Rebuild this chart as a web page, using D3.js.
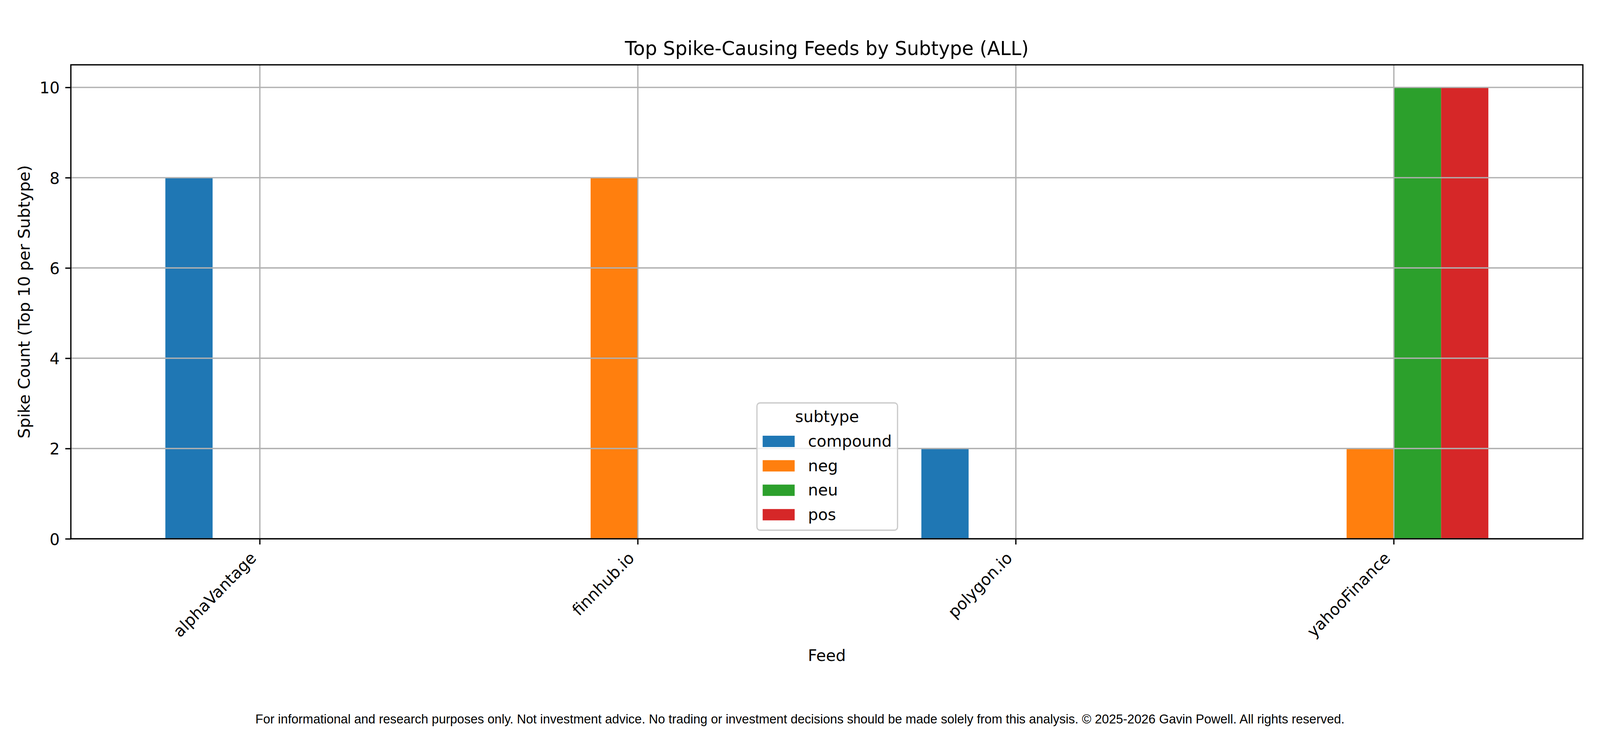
<!DOCTYPE html>
<html>
<head>
<meta charset="utf-8">
<script src="https://cdn.jsdelivr.net/npm/d3@7"></script>
<style>
  html, body { margin: 0; padding: 0; background: #fff; overflow: hidden; }
  svg { display: block; width: 100vw; height: 100vh; }
  text { font-family: "DejaVu Sans", sans-serif; fill: #000; }
</style>
</head>
<body>
<div id="wrapper"></div>
<script>
const feeds = ["alphaVantage", "finnhub.io", "polygon.io", "yahooFinance"];
const subtypes = ["compound", "neg", "neu", "pos"];
const compoundCounts = [8, 0, 2, 0];
const negCounts = [0, 8, 0, 2];
const neuCounts = [0, 0, 0, 10];
const posCounts = [0, 0, 0, 10];
const yTicks = [0, 2, 4, 6, 8, 10];
const subtypeColors = ["#1f77b4", "#ff7f0e", "#2ca02c", "#d62728"];

const titleText = "Top Spike-Causing Feeds by Subtype (ALL)";
const xLabelText = "Feed";
const yLabelText = "Spike Count (Top 10 per Subtype)";
const footerText = "For informational and research purposes only. Not investment advice. No trading or investment decisions should be made solely from this analysis. \u00a9 2025-2026 Gavin Powell. All rights reserved.";

const seriesValues = [compoundCounts, negCounts, neuCounts, posCounts];

const dimensions = {
  width: 4200,
  height: 1880,
  margin: { top: 166, right: 45, bottom: 500, left: 186 },
};
dimensions.boundedWidth = dimensions.width - dimensions.margin.left - dimensions.margin.right;
dimensions.boundedHeight = dimensions.height - dimensions.margin.top - dimensions.margin.bottom;

const fontSize = 41.67;
const lw = 3.33;
const tickLen = 14.6;

// flatten into one row per bar
const dataset = [];
feeds.forEach((feed, i) => {
  subtypes.forEach((sub, j) => {
    dataset.push({ feed, subtype: sub, value: seriesValues[j][i], color: subtypeColors[j] });
  });
});

// the window can be narrower than 4200, so stretch the drawing to fill it
const svg = d3.select("#wrapper")
  .append("svg")
  .attr("viewBox", `0 0 ${dimensions.width} ${dimensions.height}`)
  .attr("preserveAspectRatio", "none");

const bounds = svg.append("g")
  .attr("transform", `translate(${dimensions.margin.left},${dimensions.margin.top})`);

const xScale = d3.scaleBand()
  .domain(feeds)
  .range([0, dimensions.boundedWidth])
  .padding(0);

// pandas-style grouped bars: total width 0.5 of each category slot
const subScale = d3.scaleBand()
  .domain(subtypes)
  .range([xScale.bandwidth() * 0.25, xScale.bandwidth() * 0.75])
  .padding(0);

const yScale = d3.scaleLinear()
  .domain([0, 10.5])
  .range([dimensions.boundedHeight, 0]);

// bars
bounds.append("g")
  .selectAll("rect")
  .data(dataset.filter(d => d.value > 0))
  .join("rect")
  .attr("x", d => xScale(d.feed) + subScale(d.subtype))
  .attr("y", d => yScale(d.value))
  .attr("width", subScale.bandwidth())
  .attr("height", d => dimensions.boundedHeight - yScale(d.value))
  .attr("fill", d => d.color);

// grid (drawn above the bars, like the original)
const grid = bounds.append("g").attr("stroke", "#b0b0b0").attr("stroke-width", lw);
grid.selectAll(".hgrid")
  .data(yTicks)
  .join("line")
  .attr("x1", 0)
  .attr("x2", dimensions.boundedWidth)
  .attr("y1", d => yScale(d))
  .attr("y2", d => yScale(d));
grid.selectAll(".vgrid")
  .data(feeds)
  .join("line")
  .attr("x1", d => xScale(d) + xScale.bandwidth() / 2)
  .attr("x2", d => xScale(d) + xScale.bandwidth() / 2)
  .attr("y1", 0)
  .attr("y2", dimensions.boundedHeight);

// y axis
const yAxisGenerator = d3.axisLeft(yScale)
  .tickValues(yTicks)
  .tickSize(tickLen)
  .tickPadding(14.6)
  .tickFormat(d3.format("d"));

const yAxis = bounds.append("g").call(yAxisGenerator);
yAxis.select(".domain").remove();
yAxis.selectAll("line").attr("stroke", "#000").attr("stroke-width", lw);
yAxis.selectAll("text")
  .attr("font-family", "DejaVu Sans")
  .attr("font-size", fontSize)
  .attr("dy", "0.36em");

// x axis
const xAxisGenerator = d3.axisBottom(xScale)
  .tickSize(tickLen)
  .tickSizeOuter(0);

const xAxis = bounds.append("g")
  .attr("transform", `translate(0,${dimensions.boundedHeight})`)
  .call(xAxisGenerator);
xAxis.select(".domain").remove();
xAxis.selectAll("line").attr("stroke", "#000").attr("stroke-width", lw);
xAxis.selectAll("text")
  .attr("font-family", "DejaVu Sans")
  .attr("font-size", fontSize)
  .attr("y", 0)
  .attr("dy", null)
  .attr("text-anchor", "end")
  .attr("transform", "translate(-7,52) rotate(-45)");

// spines
bounds.append("rect")
  .attr("x", 0)
  .attr("y", 0)
  .attr("width", dimensions.boundedWidth)
  .attr("height", dimensions.boundedHeight)
  .attr("fill", "none")
  .attr("stroke", "#000")
  .attr("stroke-width", lw);

// legend
const legendX = 1987 - dimensions.margin.left;
const legendY = 1032 - dimensions.margin.top;
const legend = bounds.append("g").attr("transform", `translate(${legendX},${legendY})`);
legend.append("rect")
  .attr("width", 369)
  .attr("height", 326)
  .attr("rx", 8)
  .attr("fill", "#fff")
  .attr("fill-opacity", 0.8)
  .attr("stroke", "#cccccc")
  .attr("stroke-width", lw);
legend.append("text")
  .attr("x", 184)
  .attr("y", 49)
  .attr("text-anchor", "middle")
  .attr("font-size", fontSize)
  .text("subtype");
const items = legend.selectAll(".item")
  .data(subtypes)
  .join("g")
  .attr("transform", (d, i) => `translate(15,${84 + i * 62.6})`);
items.append("rect")
  .attr("width", 84)
  .attr("height", 29)
  .attr("fill", (d, i) => subtypeColors[i]);
items.append("text")
  .attr("x", 119)
  .attr("y", 28)
  .attr("font-size", fontSize)
  .text(d => d);

// title and axis labels
svg.append("text")
  .attr("x", dimensions.margin.left + dimensions.boundedWidth / 2)
  .attr("y", 141)
  .attr("text-anchor", "middle")
  .attr("font-size", 50)
  .text(titleText);

svg.append("text")
  .attr("x", dimensions.margin.left + dimensions.boundedWidth / 2)
  .attr("y", 1693)
  .attr("text-anchor", "middle")
  .attr("font-size", fontSize)
  .text(xLabelText);

svg.append("text")
  .attr("transform", `translate(78,${dimensions.margin.top + dimensions.boundedHeight / 2}) rotate(-90)`)
  .attr("text-anchor", "middle")
  .attr("font-size", fontSize)
  .text(yLabelText);

svg.append("text")
  .attr("x", 2100)
  .attr("y", 1853)
  .attr("text-anchor", "middle")
  .attr("font-size", 33.33)
  .style("font-family", "'Liberation Sans', Arial, sans-serif")
  .text(footerText);
</script>
</body>
</html>
